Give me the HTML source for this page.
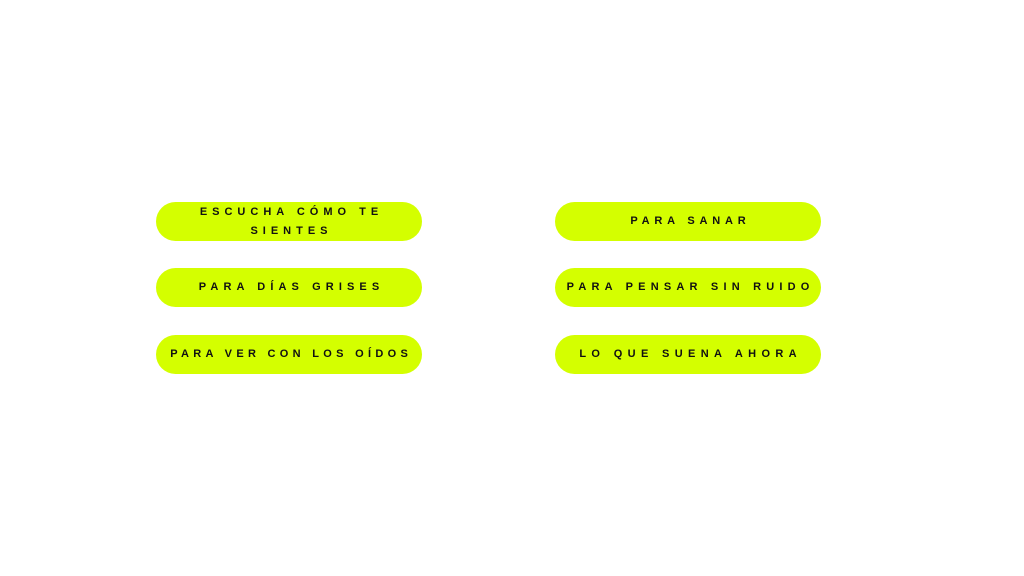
<!DOCTYPE html>
<html><head><meta charset="utf-8"><style>
body{margin:0;width:1024px;height:576px;background:#fff;position:relative;overflow:hidden;font-family:"Liberation Sans",sans-serif}
.p{position:absolute;width:266px;height:39px;border-radius:20px;background:#d4ff00;display:flex;align-items:center;justify-content:center;text-align:center;font-weight:bold;font-size:11px;color:#111;line-height:19px;white-space:nowrap}
</style></head><body>
<div class="p" style="left:156px;top:202px;letter-spacing:5px"><span style="margin-right:-5px">ESCUCHA CÓMO TE<br>SIENTES</span></div>
<div class="p" style="left:156px;top:268px;letter-spacing:5.1px"><span style="margin-right:-5.1px">PARA DÍAS GRISES</span></div>
<div class="p" style="left:156px;top:335px;letter-spacing:4.3px"><span style="margin-right:-4.3px">PARA VER CON LOS OÍDOS</span></div>
<div class="p" style="left:555px;top:202px;letter-spacing:4.8px"><span style="margin-right:-4.8px">PARA SANAR</span></div>
<div class="p" style="left:555px;top:268px;letter-spacing:5.2px"><span style="margin-right:-5.2px">PARA PENSAR SIN RUIDO</span></div>
<div class="p" style="left:555px;top:335px;letter-spacing:5.35px"><span style="margin-right:-5.35px">LO QUE SUENA AHORA</span></div>
</body></html>
